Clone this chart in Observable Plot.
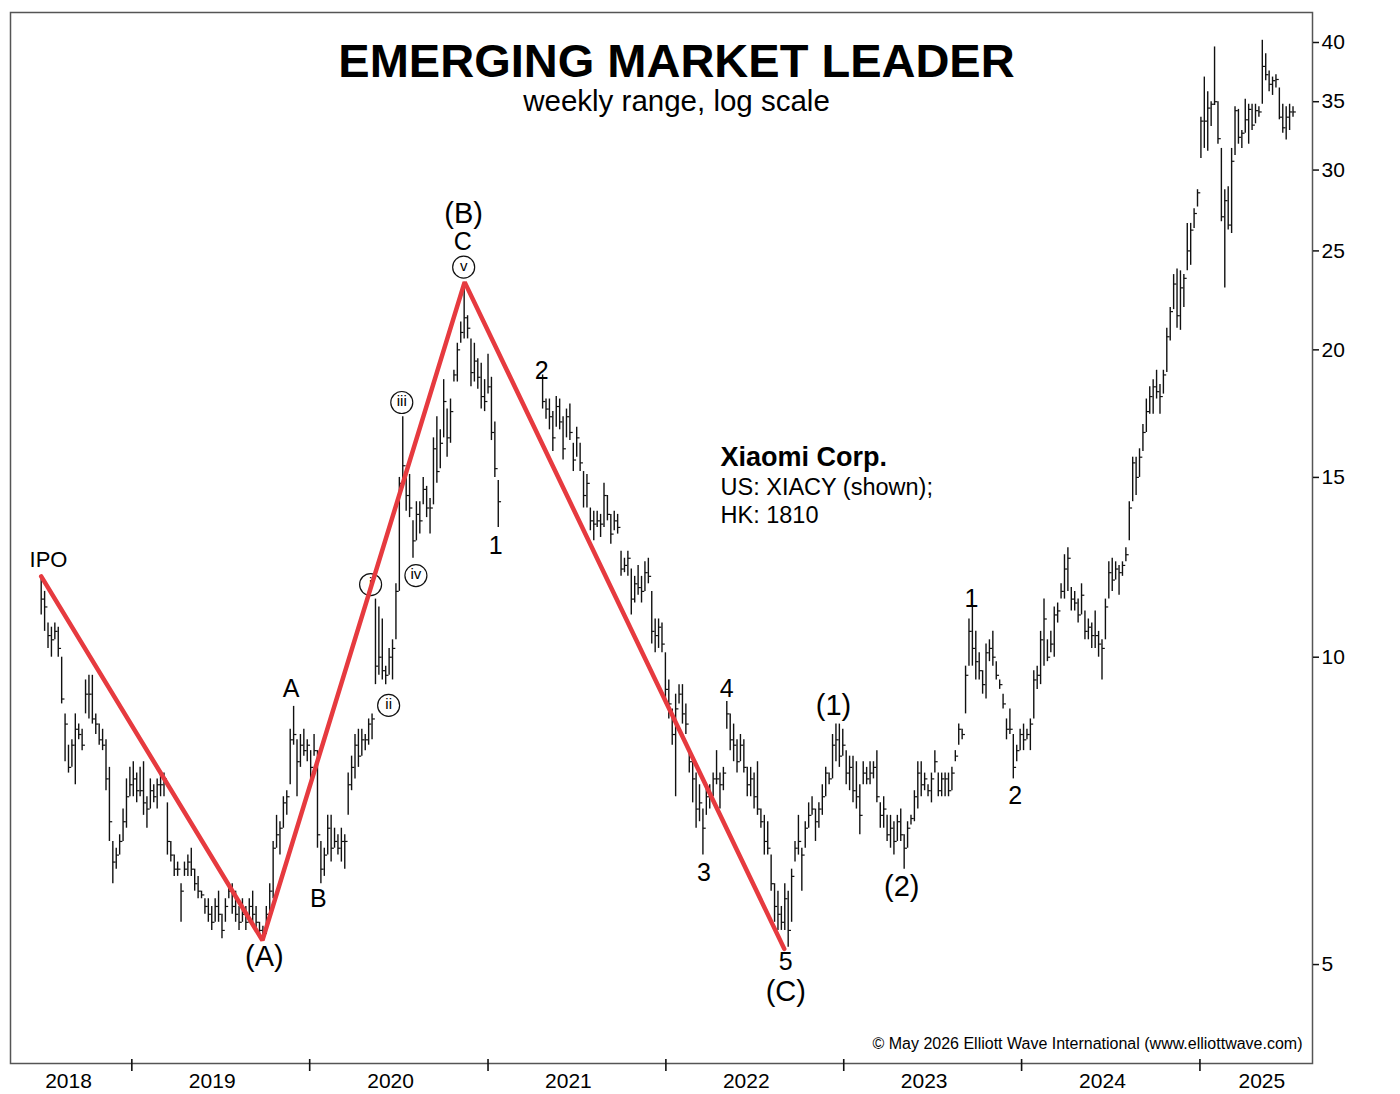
<!DOCTYPE html>
<html>
<head>
<meta charset="utf-8">
<script src="https://cdn.jsdelivr.net/npm/d3@7"></script>
<script src="https://cdn.jsdelivr.net/npm/@observablehq/plot@0.6"></script>
<style>
  body { margin: 0; background: #fff; }
  #chart svg { display: block; }
</style>
</head>
<body>
<div id="chart"></div>
<script>
// ---------- DATA (weekly range bars: [high, low, close]) ----------
const startIpo = "2018-06-29";
const barsIpoToA = [
  [12.0,11.0,11.4],[11.6,10.6,11.2],[10.8,10.2,10.5],[10.7,10.0,10.4],[10.8,10.4,10.6],[10.7,10.0,10.2],[10.0,9.0,9.1],[8.8,7.9,8.6],[8.2,7.7,7.8],[8.3,7.8,8.2],
  [8.8,7.5,8.5],[8.6,8.3,8.4],[8.5,8.1,8.2],[9.5,8.8,9.2],[9.6,8.7,9.2],[9.6,8.6,8.7],[8.8,8.4,8.6],[8.6,8.2,8.3],[8.5,8.1,8.2],[8.3,7.4,7.6],
  [7.8,6.6,6.9],[6.6,6.0,6.3],[6.5,6.2,6.4],[6.7,6.4,6.6],[7.1,6.6,6.9],[7.6,6.8,7.3],[7.8,7.3,7.5],[7.9,7.3,7.6],[7.7,7.2,7.4],[7.8,7.3,7.4],
  [7.9,7.0,7.2],[7.3,6.8,7.1],[7.6,7.1,7.4],[7.5,7.2,7.3],[7.6,7.1,7.5],[7.7,7.3,7.5],[7.7,7.3,7.6],[7.2,6.4,6.6],[6.6,6.3,6.4],[6.4,6.1,6.2],
  [6.3,6.1,6.2],[6.0,5.5,5.9],[6.3,6.1,6.2],[6.4,6.1,6.3],[6.5,6.1,6.2],[6.2,5.9,6.0],[6.1,5.8,5.9],[5.9,5.8,5.85],[5.8,5.6,5.7],
  [5.8,5.5,5.6],[5.7,5.4,5.5],[5.8,5.5,5.7],[5.9,5.5,5.6],[5.6,5.3,5.4],[5.8,5.5,5.7],[6.0,5.8,5.9],[6.0,5.6,5.7],[5.9,5.5,5.6],[5.7,5.4,5.5],
  [5.8,5.5,5.6],[5.7,5.4,5.5],[5.8,5.5,5.7],[5.9,5.5,5.6],[5.7,5.4,5.5],[5.5,5.35,5.4],[5.45,5.27,5.35]
];
const barsAToB = [
  [5.7,5.35,5.6],[6.0,5.6,5.9],[6.6,5.8,6.5],[7.0,6.5,6.7],[6.9,6.4,6.8],[7.3,6.8,7.2],[7.4,7.0,7.3],[8.5,7.5,8.3],[8.95,8.2,8.4],
  [8.3,7.3,7.9],[8.4,7.8,8.2],[8.5,8.0,8.1],[8.3,7.9,8.2],[8.1,7.6,7.8],[8.4,8.0,8.1],[8.1,6.5,6.7],[6.6,6.0,6.2],
  [6.5,6.1,6.4],[7.0,6.4,6.8],[7.0,6.3,6.5],[6.8,6.5,6.6],[6.7,6.4,6.5],[6.8,6.3,6.6],[6.7,6.2,6.6],[7.7,7.0,7.5],[8.0,7.4,7.8],[8.4,7.6,8.2],
  [8.5,7.8,8.0],[8.5,8.0,8.3],[8.4,8.1,8.3],[8.7,8.2,8.6],[8.8,8.3,8.7],
  [11.4,9.4,9.8],[11.2,9.6,10.0],[10.9,9.5,9.7],[9.8,9.4,9.6],[10.2,9.6,10.0],[10.4,9.5,10.2],[11.8,10.4,11.6],[15.0,11.6,14.8],[17.2,14.8,15.4],[15.0,13.9,14.4],
  [15.1,13.7,14.0],[13.6,12.5,13.0],[14.2,13.0,13.8],[14.2,13.2,13.6],[15.0,14.1,14.6],[14.7,13.7,14.0],[14.3,13.2,14.0],[16.4,14.1,16.0],[17.2,14.8,15.2],[16.7,15.3,16.2],
  [18.7,16.4,17.8],[17.5,15.7,16.4],[17.9,16.2,17.4],[19.1,18.6,18.9],[20.3,18.6,20.0],[21.3,20.3,20.8],[23.3,20.5,21.5],[21.6,20.5,21.0],[20.5,18.4,19.0],[20.3,18.6,19.5],
  [19.6,18.3,18.8],[19.4,17.5,18.0],[18.7,17.4,17.8],[19.8,18.1,18.4],[18.8,16.3,16.6],[17.0,15.0,15.3],[14.9,13.4,14.2]
];
// no US quotes shown between late Jan and late Apr 2021
const startAfterGap = "2021-04-23";
const barsBToC = [
  [18.9,17.5,17.8],[17.9,17.1,17.5],[17.9,16.7,17.2],[17.4,15.9,16.4],[18.0,16.8,17.6],[17.9,16.7,17.0],[17.2,15.6,16.0],[17.5,16.4,17.2],[17.7,16.3,16.6],[16.2,15.2,15.6],
  [16.8,15.7,16.4],[16.2,15.2,15.5],[15.2,14.0,14.4],[15.1,14.0,14.8],[14.0,13.3,13.6],[13.9,13.0,13.5],[13.9,13.4,13.6],[13.8,13.1,13.5],[14.8,13.4,14.4],[14.4,13.6,13.8],
  [13.8,12.9,13.2],[13.9,13.3,13.6],[13.8,13.2,13.4],[12.7,12.0,12.2],[12.5,12.1,12.3],[12.7,12.0,12.5],[12.2,11.0,11.4],[12.0,11.3,11.8],[12.3,11.5,11.7],[12.0,11.3,11.6],
  [12.4,11.6,12.1],[12.5,11.8,12.0],[11.6,10.3,10.6],[10.9,10.1,10.5],[10.9,10.2,10.7],[10.8,10.1,10.3],[10.1,9.0,9.3],[9.5,8.7,9.0],[8.9,8.2,8.4],[9.2,7.3,8.9],
  [9.4,9.0,9.2],[9.4,8.6,8.8],[9.0,8.4,8.6],[8.1,7.7,7.9],[7.9,7.2,7.6],[7.7,6.8,7.1],[7.5,6.9,7.2],[7.1,6.4,6.8],[7.5,7.0,7.3],
  [7.5,7.1,7.3],[7.7,7.3,7.6],[8.1,7.5,7.6],[7.7,7.1,7.5],[7.8,7.4,7.7],[9.05,8.5,8.8],[8.8,8.1,8.3],[8.6,7.9,8.2],[8.3,7.7,7.9],[8.4,7.9,8.2],
  [8.3,7.7,7.8],[7.8,7.3,7.5],[7.8,7.3,7.6],[7.7,7.1,7.3],[7.9,7.0,7.1],[7.1,6.8,6.9],[7.0,6.4,6.6],[6.9,6.4,6.5],[6.4,5.9,6.0],[6.0,5.5,5.7],
  [5.9,5.4,5.6],[5.7,5.4,5.5],[6.0,5.4,5.8],[5.9,5.2,5.4]
];
const barsCToTwo = [
  [6.2,5.5,6.1],[6.6,6.3,6.5],[7.0,6.4,6.6],[6.5,5.9,6.4],[6.9,6.5,6.8],[7.2,6.8,7.0],[7.3,7.0,7.1],[7.1,6.6,6.9],[7.2,6.8,7.1],[7.5,7.0,7.3],
  [7.8,7.3,7.7],[7.7,7.5,7.6],[8.4,7.6,8.2],[8.6,7.9,8.3],[8.6,7.8,8.0],[8.5,8.0,8.2],[8.1,7.5,7.7],[8.0,7.4,7.8],[8.0,7.2,7.4],[7.9,7.1,7.3],
  [7.5,6.7,7.0],[7.9,7.5,7.7],[7.8,7.5,7.6],[7.9,7.5,7.7],
  [7.9,7.6,7.8],[8.1,7.2,7.3],[7.2,6.8,7.0],[7.3,6.8,7.1],[7.0,6.6,6.7],[7.0,6.5,6.8],[6.9,6.4,6.6],[7.0,6.6,6.9],[7.1,6.6,6.7],[6.7,6.2,6.5],
  [6.9,6.5,6.8],[7.0,6.85,6.95],[7.4,6.9,7.3],[7.9,7.1,7.7],[7.9,7.3,7.5],[7.7,7.4,7.6],[7.5,7.3,7.4],[7.7,7.2,7.6],[8.1,7.7,7.9],[7.7,7.3,7.4],
  [7.7,7.3,7.6],[7.7,7.3,7.6],[7.7,7.3,7.4],[7.8,7.4,7.7],[8.1,7.9,8.0],[8.6,8.2,8.5],[8.5,8.3,8.4],[9.8,8.8,9.6],[10.9,9.8,10.6],[11.2,9.8,10.2],
  [10.6,9.5,9.9],[10.1,9.5,9.7],[9.7,9.2,9.4],[10.3,9.1,10.1],[10.4,9.9,10.2],[10.6,9.8,10.0],[9.9,9.5,9.6],[9.5,9.3,9.4],[9.2,8.9,9.0],[8.7,8.3,8.5],
  [8.9,8.4,8.5],[8.4,7.6,7.8]
];
const barsRally = [
  [8.2,7.9,8.1],[8.5,8.1,8.4],[8.6,8.1,8.3],[8.5,8.3,8.4],[8.7,8.1,8.6],[9.7,8.7,9.5],[9.8,9.3,9.6],[10.6,9.4,10.4],
  [11.4,9.8,10.9],[10.4,9.9,10.0],[10.6,10.1,10.3],[11.2,10.0,11.0],[11.3,10.8,11.1],[11.8,11.4,11.6],[12.6,11.4,12.2],[12.8,11.6,12.5],[11.7,11.1,11.4],[11.6,11.1,11.3],
  [11.4,10.8,11.0],[11.8,11.0,11.5],[11.1,10.4,10.6],[10.9,10.4,10.7],[10.8,10.2,10.5],[11.1,10.2,10.5],[10.6,10.0,10.3],[10.4,9.5,10.2],
  [11.4,10.4,11.2],[12.4,11.4,12.1],[12.5,11.6,11.9],[12.4,11.9,12.2],[12.3,11.5,12.1],[12.4,12.0,12.3],[12.8,12.4,12.6],[14.2,13.0,14.0],[15.7,14.2,15.5],[15.7,14.4,15.0],
  [16.0,15.0,15.7],[16.9,15.9,16.6],[17.9,16.6,17.4],[18.4,17.3,18.0],[18.7,17.3,18.4],[19.1,17.9,18.2],[18.5,17.3,18.0],[19.1,18.1,18.9],[21.0,19.0,20.6],[22.0,20.4,21.8],
  [23.7,21.9,23.2],[24.0,21.0,21.6],[23.9,20.9,23.0],[23.7,22.0,23.5],[26.6,23.9,25.0],[26.6,24.2,26.2],
  [27.5,26.3,27.2],[28.7,27.6,28.5],[33.8,30.8,33.5],[37.0,31.5,33.5],[35.8,31.3,34.5],[35.0,33.1,34.8],[39.6,34.7,35.0],[35.0,31.8,32.2],[31.5,26.7,27.0],[28.7,23.0,28.0],
  [28.9,26.2,26.5],[31.5,26.0,30.6],[34.6,31.0,34.3],[34.4,31.8,32.3],[32.8,31.5,32.6],[35.2,32.6,33.6],[34.8,31.8,34.4],[34.8,32.8,33.2],[34.8,33.3,34.3],[34.6,33.8,34.2],
  [40.2,34.8,37.9],[39.0,36.7,37.2],[37.5,35.8,36.4],[37.0,35.5,36.7],[37.2,36.1,36.8],[36.1,33.6,33.8],[34.8,32.6,33.0],[34.6,32.1,33.8],[34.8,32.8,34.2],[34.6,33.8,34.2]
];

// red wave path: IPO -> (A) -> (B) -> (C)
const zigzagDates  = ["2018-06-29", "2019-09-26", "2020-11-14", "2022-09-01"];
const zigzagPrices = [12.0, 5.28, 23.3, 5.18];

// wave labels [date, price, text]
const degreeLabels = [["2019-09-30",5.09,"(A)"],["2020-11-12",27.2,"(B)"],["2022-09-04",4.70,"(C)"],["2022-12-11",8.97,"(1)"],["2023-04-30",5.96,"(2)"]];
const minorLabels  = [["2019-11-24",9.30,"A"],["2020-01-19",5.80,"B"],["2020-11-10",25.5,"C"],["2021-01-17",12.86,"1"],["2021-04-21",19.09,"2"],
                      ["2022-03-20",6.15,"3"],["2022-05-06",9.30,"4"],["2022-09-04",5.03,"5"],["2023-09-20",11.41,"1"],["2023-12-19",7.32,"2"]];
const ipoLabel     = [["2018-07-14",12.46,"IPO"]];
const circledLabels = [["2020-05-05",11.78,"i"],["2020-06-11",8.97,"ii"],["2020-07-08",17.76,"iii"],["2020-08-06",12.02,"iv"],["2020-11-12",24.1,"v"]];

// axes
const yTicks = [5, 10, 15, 20, 25, 30, 35, 40];
const yearStarts = ["2019-01-01","2020-01-01","2021-01-01","2022-01-01","2023-01-01","2024-01-01","2025-01-01"];
const yearLabels = ["2018","2019","2020","2021","2022","2023","2024","2025"];
const yearLabelDates = ["2018-08-24","2019-06-15","2020-06-15","2021-06-15","2022-06-15","2023-06-15","2024-06-15","2025-05-08"];

const titleText = "EMERGING MARKET LEADER";
const subtitleText = "weekly range, log scale";
const companyName = "Xiaomi Corp.";
const companyLine1 = "US: XIACY (shown);";
const companyLine2 = "HK: 1810";
const copyrightText = "\u00A9 May 2026 Elliott Wave International (www.elliottwave.com)";

// ---------- BUILD ----------
const parse = d3.utcParse("%Y-%m-%d");
function weekly(start, ...segments) {
  const t0 = parse(start);
  return segments.flat().map(([hi, lo, close], i) => ({date: d3.utcDay.offset(t0, 7 * i), hi, lo, close}));
}
const bars = [...weekly(startIpo, barsIpoToA, barsAToB), ...weekly(startAfterGap, barsBToC, barsCToTwo, barsRally)];
const zigzag = zigzagDates.map((d, i) => ({date: parse(d), price: zigzagPrices[i]}));
const lab = arr => arr.map(([d, p, t]) => ({date: parse(d), price: p, text: t}));
const years = yearLabels.map((t, i) => ({date: parse(yearLabelDates[i]), text: t}));

const W = 1400, H = 1094, mT = 12, mB = 31, mL = 10, mR = 88;
const frameH = H - mT - mB;
const closeTick = { draw(ctx) { ctx.moveTo(0, 0); ctx.lineTo(2.8, 0); } };
const ink = "#111";
const red = "#e63a3f";
const mid = {lineAnchor: "middle"};

const chart = Plot.plot({
  width: W, height: H,
  marginTop: mT, marginBottom: mB, marginLeft: mL, marginRight: mR,
  x: {type: "utc", domain: [parse("2018-04-27"), parse("2025-08-20")], axis: null},
  y: {type: "log", domain: [4, 42.8]},
  style: {fontFamily: "'Liberation Sans', Arial, Helvetica, sans-serif", background: "white", color: "black", overflow: "visible"},
  marks: [
    Plot.frame({stroke: "#555", strokeWidth: 1.5}),
    Plot.axisY(yTicks, {anchor: "right", tickSize: 6, tickPadding: 3, fontSize: 21, label: null, tickFormat: d => String(d), stroke: ink, strokeWidth: 1.5}),
    Plot.tickX(yearStarts.map(parse), {x: d => d, insetTop: frameH - 4, insetBottom: -8, stroke: ink, strokeWidth: 1.6}),
    Plot.text(years, {x: "date", text: "text", frameAnchor: "bottom", dy: 18, fontSize: 21, ...mid}),
    Plot.ruleX(bars, {x: "date", y1: "lo", y2: "hi", stroke: ink, strokeWidth: 1.4}),
    Plot.dot(bars, {x: "date", y: "close", symbol: closeTick, stroke: ink, strokeWidth: 1.2, fill: "none"}),
    Plot.dot(lab(circledLabels), {x: "date", y: "price", r: 11, stroke: ink, strokeWidth: 1.2, fill: "white"}),
    Plot.text(lab(circledLabels), {x: "date", y: "price", text: "text", fontSize: 15, dy: -1}),
    Plot.line(zigzag, {x: "date", y: "price", stroke: red, strokeWidth: 4.5, strokeLinejoin: "miter"}),
    Plot.text(lab(degreeLabels), {x: "date", y: "price", text: "text", fontSize: 29}),
    Plot.text(lab(minorLabels), {x: "date", y: "price", text: "text", fontSize: 25}),
    Plot.text(lab(ipoLabel), {x: "date", y: "price", text: "text", fontSize: 22}),
    Plot.text([titleText], {frameAnchor: "top", dx: 15, dy: 49, fontSize: 47, fontWeight: "bold", ...mid}),
    Plot.text([subtitleText], {frameAnchor: "top", dx: 15, dy: 89, fontSize: 29.5, ...mid}),
    Plot.text([companyName], {frameAnchor: "top-left", dx: 710, dy: 445, textAnchor: "start", fontSize: 27, fontWeight: "bold", ...mid}),
    Plot.text([companyLine1], {frameAnchor: "top-left", dx: 710, dy: 475, textAnchor: "start", fontSize: 23.5, ...mid}),
    Plot.text([companyLine2], {frameAnchor: "top-left", dx: 710, dy: 503, textAnchor: "start", fontSize: 23.5, ...mid}),
    Plot.text([copyrightText], {frameAnchor: "bottom-right", dx: -10, dy: -20, textAnchor: "end", fontSize: 16, ...mid})
  ]
});
document.getElementById("chart").append(chart);
</script>
</body>
</html>
